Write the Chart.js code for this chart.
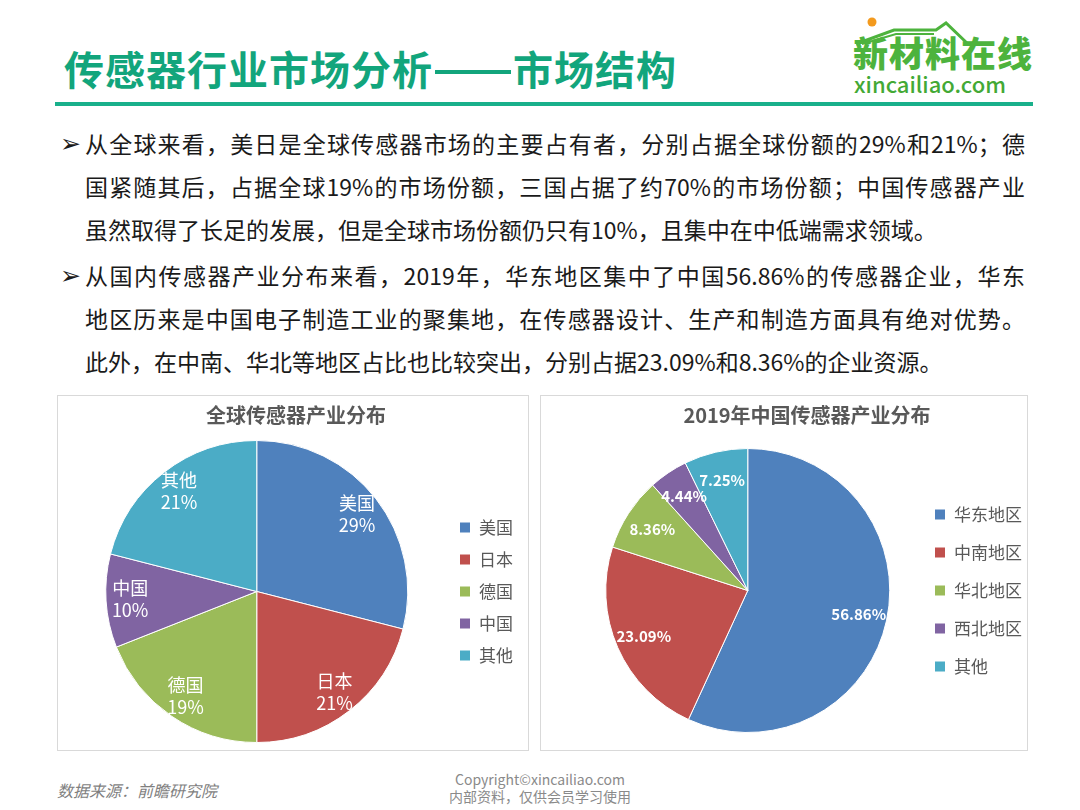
<!DOCTYPE html>
<html lang="zh-CN">
<head>
<meta charset="utf-8">
<title>传感器行业市场分析——市场结构</title>
<script src="https://cdn.jsdelivr.net/npm/chart.js@4.4.1/dist/chart.umd.min.js"></script>
<style>
  html, body { margin: 0; padding: 0; background: #fff; }
  body { width: 1080px; height: 810px; position: relative; overflow: hidden;
         font-family: "Noto Sans CJK SC", "Noto Sans", sans-serif; }
  .title { position: absolute; left: 64px; top: 40px; font-size: 40px; font-weight: 700;
           color: #12a57c; letter-spacing: 1px; line-height: 56px; white-space: nowrap; }
  .title .dash { display: inline-block; width: 76px; height: 4px; background: #12a57c;
                 vertical-align: middle; margin: 0 2px 4px 2px; }
  .rule { position: absolute; left: 55px; top: 102px; width: 978px; height: 4px; background: #19b08b; }
  .logo { position: absolute; left: 850px; top: 12px; width: 190px; height: 84px; }
  .logo .cn { position: absolute; left: 3px; top: 20px; font-size: 35px; font-weight: 900;
              color: #4db33d; letter-spacing: 1px; line-height: 40px; white-space: nowrap; }
  .logo .en { position: absolute; left: 4px; top: 59px; font-size: 22px; font-weight: 500;
              color: #43a935; line-height: 24px; white-space: nowrap; }
  .logo svg { position: absolute; left: 0; top: 0; }
  .bullets { position: absolute; left: 60px; top: 122px; width: 970px; color: #1a1a1a; font-size: 23px; }
  .line { position: relative; height: 43px; line-height: 43px; padding-left: 25px; width: 940px;
          text-align: justify; text-align-last: justify; white-space: nowrap; }
  .line.last { text-align-last: left; }
  .line .mk { position: absolute; left: 0; top: 0; font-family: "DejaVu Sans", sans-serif;
              font-size: 25px; font-weight: 700; }
  .gap { height: 3px; }
  .box { position: absolute; top: 395px; height: 356px; border: 1px solid #d9d9d9; box-sizing: border-box; }
  #boxLeft { left: 57px; width: 472px; }
  #boxRight { left: 540px; width: 488px; }
  .src { position: absolute; left: 57px; top: 778px; font-size: 16px; font-style: italic; color: #7f7f7f; }
  .copy { position: absolute; left: 390px; top: 771px; width: 300px; text-align: center;
          font-size: 14px; line-height: 17px; color: #8a8a8a; }
</style>
</head>
<body>
<div class="title">传感器行业市场分析<span class="dash"></span>市场结构</div>
<div class="rule"></div>
<div class="logo">
  <svg width="190" height="40" viewBox="0 0 190 40">
    <circle cx="22" cy="10" r="4.5" fill="#f39a1e"/>
    <polyline points="6,32 44,18 86,18 96,11 118,32" fill="none" stroke="#4db33d" stroke-width="3"/>
    <polyline points="12,32 46,22 84,22" fill="none" stroke="#4db33d" stroke-width="2"/>
  </svg>
  <div class="cn">新材料在线</div>
  <div class="en">xincailiao.com</div>
</div>

<div class="bullets">
  <div class="line"><span class="mk">➢</span>从全球来看，美日是全球传感器市场的主要占有者，分别占据全球份额的29%和21%；德</div>
  <div class="line">国紧随其后，占据全球19%的市场份额，三国占据了约70%的市场份额；中国传感器产业</div>
  <div class="line last" style="width:880px">虽然取得了长足的发展，但是全球市场份额仍只有10%，且集中在中低端需求领域。</div>
  <div class="gap"></div>
  <div class="line"><span class="mk">➢</span>从国内传感器产业分布来看，2019年，华东地区集中了中国56.86%的传感器企业，华东</div>
  <div class="line">地区历来是中国电子制造工业的聚集地，在传感器设计、生产和制造方面具有绝对优势。</div>
  <div class="line last" style="width:890px">此外，在中南、华北等地区占比也比较突出，分别占据23.09%和8.36%的企业资源。</div>
</div>

<div class="box" id="boxLeft"><canvas id="chartLeft"></canvas></div>
<div class="box" id="boxRight"><canvas id="chartRight"></canvas></div>

<div class="src">数据来源：前瞻研究院</div>
<div class="copy">Copyright©xincailiao.com<br>内部资料，仅供会员学习使用</div>

<script>
const globalCountries = ["美国", "日本", "德国", "中国", "其他"];
const globalShare = [29, 21, 19, 10, 21];

const chinaRegions = ["华东地区", "中南地区", "华北地区", "西北地区", "其他"];
const chinaShare = [56.86, 23.09, 8.36, 4.44, 7.25];

const sliceColors = ["#4f81bd", "#c0504d", "#9bbb59", "#8064a2", "#4bacc6"];

const FONT = '"Noto Sans CJK SC", "Noto Sans", sans-serif';

// white labels inside the slices
const sliceLabels = {
  id: "sliceLabels",
  afterDatasetsDraw(chart, args, opts) {
    const ctx = chart.ctx;
    const meta = chart.getDatasetMeta(0);
    const values = chart.data.datasets[0].data;
    ctx.save();
    ctx.fillStyle = "#ffffff";
    ctx.textAlign = "center";
    ctx.textBaseline = "middle";
    ctx.font = opts.font;
    meta.data.forEach((arc, i) => {
      const p = arc.getProps(["x", "y", "startAngle", "endAngle", "outerRadius"], true);
      const mid = (p.startAngle + p.endAngle) / 2;
      const r = p.outerRadius * opts.offset;
      const x = p.x + Math.cos(mid) * r;
      const y = p.y + Math.sin(mid) * r;
      if (opts.withName) {
        ctx.fillText(chart.data.labels[i], x, y - 11);
        ctx.fillText(values[i] + "%", x, y + 11);
      } else {
        ctx.fillText(values[i].toFixed(2) + "%", x, y);
      }
    });
    ctx.restore();
  }
};

function pieConfig(title, labels, values, legendPad, titlePad, layoutPad, labelOpts) {
  return {
    type: "pie",
    data: {
      labels: labels,
      datasets: [{
        data: values,
        backgroundColor: sliceColors,
        borderColor: "#ffffff",
        borderWidth: 1
      }]
    },
    options: {
      responsive: true,
      maintainAspectRatio: false,
      animation: false,
      layout: { padding: layoutPad },
      plugins: {
        title: {
          display: true,
          text: title,
          color: "#595959",
          font: { family: FONT, size: 20, weight: "bold" },
          padding: titlePad
        },
        legend: {
          position: "right",
          fullSize: false,
          labels: {
            color: "#595959",
            font: { family: FONT, size: 17 },
            boxWidth: 11,
            boxHeight: 11,
            padding: legendPad
          }
        },
        tooltip: { enabled: false },
        sliceLabels: labelOpts
      }
    },
    plugins: [sliceLabels]
  };
}

let chartLeft = new Chart(
  document.getElementById("chartLeft"),
  pieConfig("全球传感器产业分布", globalCountries, globalShare, 15,
    { top: 7, bottom: 13 }, { left: 11, right: 5, bottom: 7 },
    { font: "18px " + FONT, offset: 0.84, withName: true })
);

let chartRight = new Chart(
  document.getElementById("chartRight"),
  pieConfig("2019年中国传感器产业分布", chinaRegions, chinaShare, 21,
    { top: 7, bottom: 21 }, { left: 41, right: -5, bottom: 17 },
    { font: "bold 15px " + FONT, offset: 0.8, withName: false })
);
</script>
</body>
</html>
